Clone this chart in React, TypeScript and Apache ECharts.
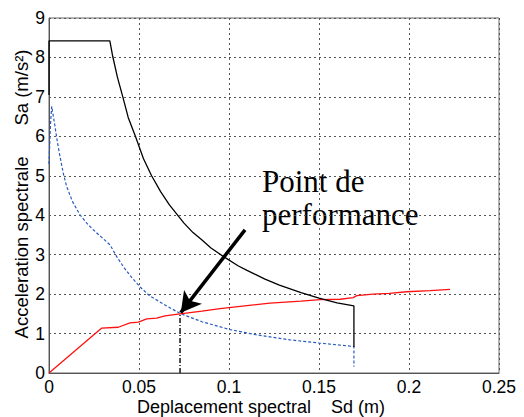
import React, { useEffect, useRef } from "react";
import * as echarts from "echarts";

// Black curve
const blackCurve: [number, number][] = [
  [0, 7.05], [0, 8.42], [0.0338, 8.42], [0.0354, 8.03], [0.038, 7.5], [0.041, 7.0],
  [0.044, 6.48], [0.048, 6.0], [0.0525, 5.43], [0.057, 5.0], [0.062, 4.6], [0.0669, 4.26],
  [0.075, 3.8], [0.08, 3.56], [0.085, 3.37], [0.09, 3.17], [0.097, 2.95], [0.105, 2.72],
  [0.11, 2.6], [0.12, 2.38], [0.128, 2.23], [0.14, 2.04], [0.15, 1.9], [0.16, 1.78],
  [0.1694, 1.70], [0.1694, 0.66],
];

// Blue dashed curve
const blueCurve: [number, number][] = [
  [0, 5.3], [0.0008, 6.3], [0.0015, 6.76], [0.003, 6.35], [0.0045, 5.9], [0.0061, 5.49],
  [0.008, 5.05], [0.0098, 4.73], [0.013, 4.35], [0.0172, 4.01], [0.021, 3.8],
  [0.0246, 3.63], [0.029, 3.45], [0.0339, 3.25], [0.0376, 2.95], [0.042, 2.65],
  [0.046, 2.42], [0.0506, 2.18], [0.0561, 1.95], [0.0654, 1.7], [0.0728, 1.51],
  [0.085, 1.3], [0.1006, 1.1], [0.115, 0.97], [0.1339, 0.84], [0.15, 0.76],
  [0.1694, 0.67], [0.1694, 0.16],
];

// Red curve
const redCurve: [number, number][] = [
  [0, 0], [0.0293, 1.14], [0.0385, 1.16], [0.045, 1.27], [0.0496, 1.29], [0.0543, 1.37],
  [0.0598, 1.39], [0.0644, 1.45], [0.0728, 1.5], [0.085, 1.57], [0.095, 1.63],
  [0.11, 1.71], [0.1228, 1.77], [0.14, 1.82], [0.1506, 1.86], [0.1617, 1.87],
  [0.169, 1.91], [0.171, 1.96], [0.18, 2.0], [0.189, 2.02], [0.1987, 2.06],
  [0.2117, 2.09], [0.2228, 2.12],
];

const perfPoint: [number, number] = [0.0728, 1.5];
const arrowTail: [number, number] = [0.1089, 3.63];
const arrowHead: [number, number] = [0.0732, 1.53];

const xMin = 0, xMax = 0.25, xStep = 0.05;
const yMin = 0, yMax = 9, yStep = 1;

const xName = "Deplacement spectral    Sd (m)";
const yName = "Acceleration spectrale      Sa (m/s²)";
const noteLine1 = "Point de";
const noteLine2 = "performance";

export default function App() {
  const ref = useRef<HTMLDivElement>(null);
  useEffect(() => {
    if (!ref.current) return;
    const chart = echarts.init(ref.current, null, { renderer: "svg" });
    const axisColor = "#555";
    const split = { show: true, lineStyle: { color: "#555", type: [2, 3], width: 1 } };
    const noteStyle = { fontSize: 31, fontFamily: "Liberation Serif", fill: "#000" };
    chart.setOption({
      animation: false,
      backgroundColor: "#fff",
      grid: { left: 49, right: 25, top: 18, bottom: 44, show: true, borderColor: "#666", borderWidth: 1 },
      xAxis: {
        type: "value", min: xMin, max: xMax, interval: xStep,
        axisLine: { show: true, lineStyle: { color: axisColor } },
        axisTick: { show: false },
        splitLine: split,
        axisLabel: { color: "#000", fontSize: 17.5, fontFamily: "Liberation Sans", margin: 5 },
      },
      yAxis: {
        type: "value", min: yMin, max: yMax, interval: yStep,
        axisLine: { show: true, lineStyle: { color: axisColor } },
        axisTick: { show: false },
        splitLine: split,
        axisLabel: { color: "#000", fontSize: 17.5, fontFamily: "Liberation Sans", margin: 4 },
      },
      series: [
        {
          type: "line", data: blueCurve, symbol: "none",
          lineStyle: { color: "#2a5bc0", width: 1.2, type: [3, 2] },
        },
        {
          type: "line", data: redCurve, symbol: "none",
          lineStyle: { color: "#ff1010", width: 1.3 },
        },
        {
          type: "line", data: blackCurve, symbol: "none",
          lineStyle: { color: "#000", width: 1.3 },
        },
        {
          type: "line", data: [[perfPoint[0], 0], perfPoint], symbol: "none",
          lineStyle: { color: "#222", width: 1.6, type: [5, 2, 1, 2] },
          markLine: {
            silent: true,
            symbol: ["none", "arrow"],
            symbolSize: [17, 20],
            label: { show: false },
            lineStyle: { color: "#000", width: 3.5, type: "solid" },
            data: [[{ coord: arrowTail }, { coord: arrowHead }]],
          },
        },
      ],
      graphic: [
        {
          type: "text", x: 262, y: 181,
          style: { ...noteStyle, text: noteLine1, verticalAlign: "middle" },
        },
        {
          type: "text", x: 262, y: 214,
          style: { ...noteStyle, text: noteLine2, verticalAlign: "middle" },
        },
        {
          type: "text", x: 137, y: 407,
          style: {
            text: xName, fontSize: 18, fontFamily: "Liberation Sans", fill: "#000",
            verticalAlign: "middle", align: "left",
          },
        },
        {
          type: "text", x: 21, y: 194, rotation: Math.PI / 2,
          style: {
            text: yName, fontSize: 18.5, fontFamily: "Liberation Sans", fill: "#000",
            verticalAlign: "middle", align: "center",
          },
        },
      ],
    });
    return () => chart.dispose();
  }, []);
  return (
    <div
      ref={ref}
      style={{ position: "fixed", left: 0, top: 0, width: 524, height: 417, background: "#fff" }}
    />
  );
}
